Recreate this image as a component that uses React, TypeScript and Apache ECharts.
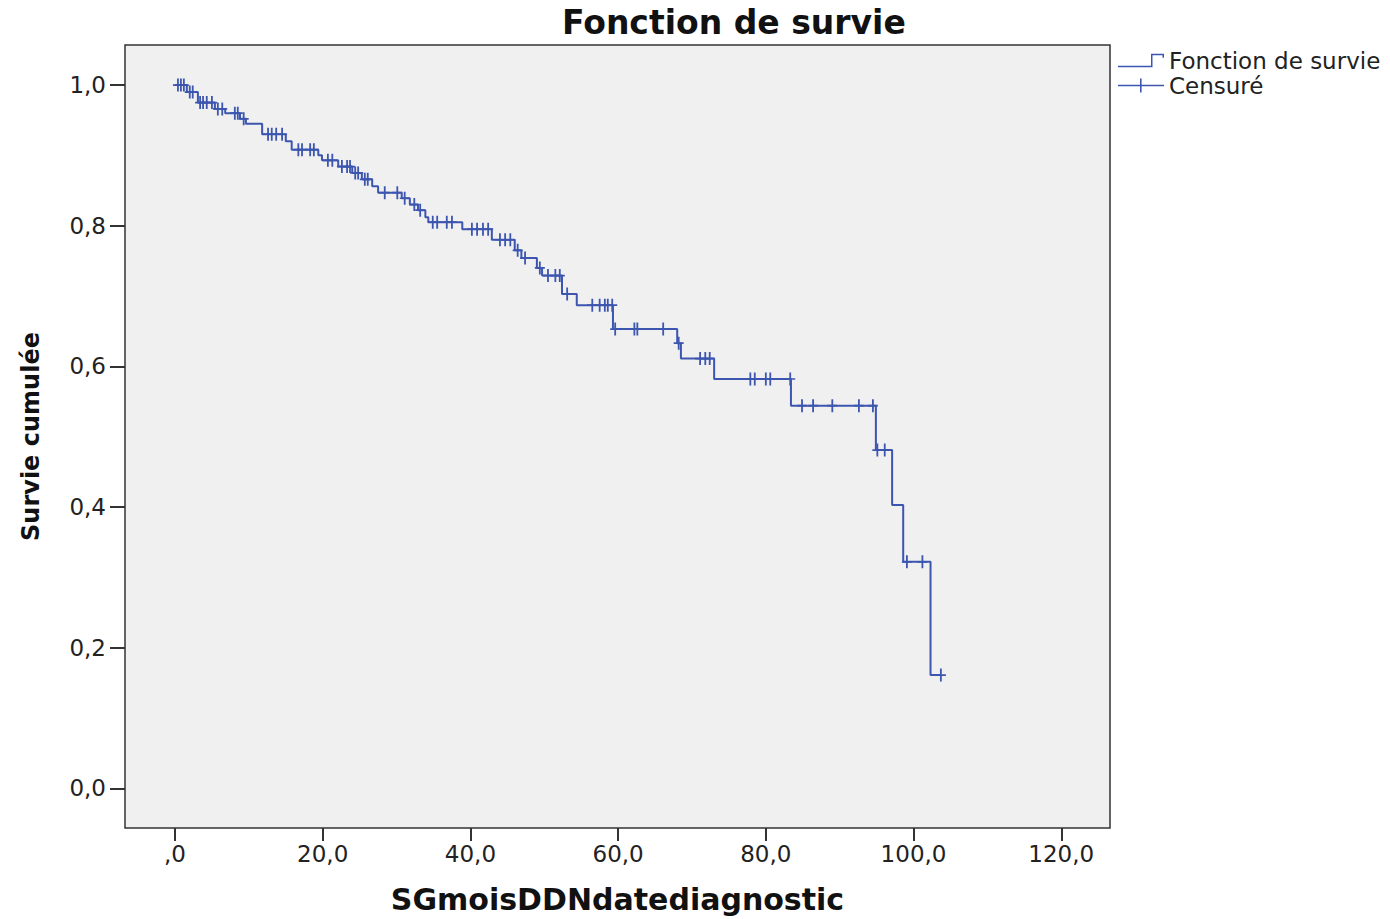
import React, { useEffect, useRef } from "react";
import * as echarts from "echarts";

// Kaplan-Meier steps: time at which survival drops, and survival after the drop
const eventTimes = [0, 1.6, 3.1, 5.4, 6.8, 8.8, 9.6, 11.8, 15.0, 15.8, 19.4, 19.9, 22.1, 24.0, 25.3, 26.7, 27.5, 30.7, 31.8, 32.9, 33.9, 34.3, 38.9, 42.9, 46.0, 46.9, 49.0, 49.7, 52.4, 54.4, 59.3, 68.0, 68.5, 73.0, 83.4, 94.9, 97.1, 98.6, 102.3];
const eventSurvival = [1.0, 0.99, 0.975, 0.966, 0.96, 0.952, 0.945, 0.93, 0.92, 0.908, 0.9, 0.893, 0.884, 0.875, 0.866, 0.856, 0.847, 0.839, 0.83, 0.822, 0.812, 0.805, 0.795, 0.78, 0.765, 0.754, 0.74, 0.729, 0.703, 0.687, 0.653, 0.633, 0.611, 0.582, 0.544, 0.481, 0.403, 0.322, 0.161];
const lastTime = 103.7;

// Censored observations
const censorTimes = [0.4, 0.8, 1.2, 2.0, 2.4, 3.4, 3.8, 4.3, 5.0, 5.8, 6.4, 8.1, 8.5, 9.3, 12.6, 13.1, 13.7, 14.5, 16.7, 17.2, 18.3, 18.8, 20.7, 21.3, 22.6, 23.3, 23.7, 24.4, 24.8, 25.7, 26.1, 28.4, 30.1, 31.1, 32.4, 33.2, 34.9, 35.5, 36.8, 37.5, 40.2, 40.9, 41.7, 42.4, 44.0, 44.7, 45.4, 46.4, 47.4, 49.4, 50.5, 51.5, 52.1, 53.1, 56.5, 57.5, 58.2, 58.6, 59.2, 59.6, 62.2, 62.6, 66.1, 68.2, 71.1, 71.8, 72.4, 77.9, 78.5, 80.0, 80.6, 83.3, 84.9, 86.4, 89.0, 92.6, 94.5, 95.1, 96.1, 99.1, 101.2, 103.7];
const censorSurvival = [1.0, 1.0, 1.0, 0.99, 0.99, 0.975, 0.975, 0.975, 0.975, 0.966, 0.966, 0.96, 0.96, 0.952, 0.93, 0.93, 0.93, 0.93, 0.908, 0.908, 0.908, 0.908, 0.893, 0.893, 0.884, 0.884, 0.884, 0.875, 0.875, 0.866, 0.866, 0.847, 0.847, 0.839, 0.83, 0.822, 0.805, 0.805, 0.805, 0.805, 0.795, 0.795, 0.795, 0.795, 0.78, 0.78, 0.78, 0.765, 0.754, 0.74, 0.729, 0.729, 0.729, 0.703, 0.687, 0.687, 0.687, 0.687, 0.687, 0.653, 0.653, 0.653, 0.653, 0.633, 0.611, 0.611, 0.611, 0.582, 0.582, 0.582, 0.582, 0.582, 0.544, 0.544, 0.544, 0.544, 0.544, 0.481, 0.481, 0.322, 0.322, 0.161];

const xTicks = [0, 20, 40, 60, 80, 100, 120];
const yTicks = [0, 0.2, 0.4, 0.6, 0.8, 1.0];

const TITLE = "Fonction de survie";
const X_NAME = "SGmoisDDNdatediagnostic";
const Y_NAME = "Survie cumulée";
const SERIES_LINE = "Fonction de survie";
const SERIES_CENSOR = "Censuré";

const BLUE = "#3C56B0";
const FONT = "DejaVu Sans";

const stepIcon = "path://M0,12 H33 V0 H46 V4 H44.5 V1.5 H34.5 V13.5 H0 Z";
const plusIcon = "path://M0,6.25 H22 V0 H23.6 V6.25 H46 V7.75 H23.6 V14 H22 V7.75 H0 Z";
const censorSymbol = "path://M4.1,0 H5.9 V5.2 H10 V6.8 H5.9 V12 H4.1 V6.8 H0 V5.2 H4.1 Z";

export default function App() {
  const ref = useRef<HTMLDivElement>(null);
  useEffect(() => {
    if (!ref.current) return;
    const chart = echarts.init(ref.current, undefined, { renderer: "svg" });
    const lineData = eventTimes.map((t, i) => [t, eventSurvival[i]]);
    lineData.push([lastTime, eventSurvival[eventSurvival.length - 1]]);
    const censorData = censorTimes.map((t, i) => [t, censorSurvival[i]]);
    const fmt = (v: number) => v.toFixed(1).replace(".", ",");
    chart.setOption({
      animation: false,
      backgroundColor: "#ffffff",
      title: {
        text: TITLE,
        left: 557,
        top: 1,
        textStyle: { fontFamily: FONT, fontSize: 33, fontWeight: "bold", color: "#111" },
      },
      legend: {
        orient: "vertical",
        left: 1113,
        top: 43,
        itemWidth: 46,
        itemHeight: 14,
        itemGap: 0,
        textStyle: { fontFamily: FONT, fontSize: 23, color: "#222", lineHeight: 25 },
        data: [
          { name: SERIES_LINE, icon: stepIcon },
          { name: SERIES_CENSOR, icon: plusIcon },
        ],
      },
      grid: {
        left: 125,
        right: 280,
        top: 45,
        bottom: 91,
        show: true,
        backgroundColor: "#F0F0F0",
        borderColor: "#333",
        borderWidth: 1.5,
      },
      xAxis: {
        type: "value",
        min: -6.77,
        max: 126.6,
        name: X_NAME,
        nameLocation: "middle",
        nameGap: 56,
        nameTextStyle: { fontFamily: FONT, fontSize: 30, fontWeight: "bold", color: "#111" },
        axisLine: { show: false, onZero: false },
        splitLine: { show: false },
        axisTick: {
          show: true,
          length: 13,
          customValues: xTicks,
          lineStyle: { color: "#333", width: 2 },
        },
        axisLabel: {
          customValues: xTicks,
          margin: 14,
          fontFamily: FONT,
          fontSize: 23,
          color: "#222",
          formatter: (v: number) => (v === 0 ? ",0" : fmt(v)),
        },
      },
      yAxis: {
        type: "value",
        min: -0.0564,
        max: 1.0569,
        name: Y_NAME,
        nameLocation: "middle",
        nameGap: 82,
        nameTextStyle: { fontFamily: FONT, fontSize: 24, fontWeight: "bold", color: "#111" },
        axisLine: { show: false, onZero: false },
        splitLine: { show: false },
        axisTick: {
          show: true,
          length: 15,
          customValues: yTicks,
          lineStyle: { color: "#333", width: 2 },
        },
        axisLabel: {
          customValues: yTicks,
          margin: 19,
          fontFamily: FONT,
          fontSize: 23,
          color: "#222",
          formatter: (v: number) => fmt(v),
        },
      },
      series: [
        {
          name: SERIES_LINE,
          type: "line",
          step: "end",
          data: lineData,
          showSymbol: false,
          symbol: "none",
          lineStyle: { color: BLUE, width: 2 },
          itemStyle: { color: BLUE },
          z: 2,
        },
        {
          name: SERIES_CENSOR,
          type: "scatter",
          data: censorData,
          symbol: censorSymbol,
          symbolSize: [10, 13],
          itemStyle: { color: BLUE, opacity: 1 },
          z: 3,
        },
      ],
    });
    return () => chart.dispose();
  }, []);
  return (
    <div
      ref={ref}
      style={{ position: "absolute", left: 0, top: 0, width: 1390, height: 919 }}
    />
  );
}
